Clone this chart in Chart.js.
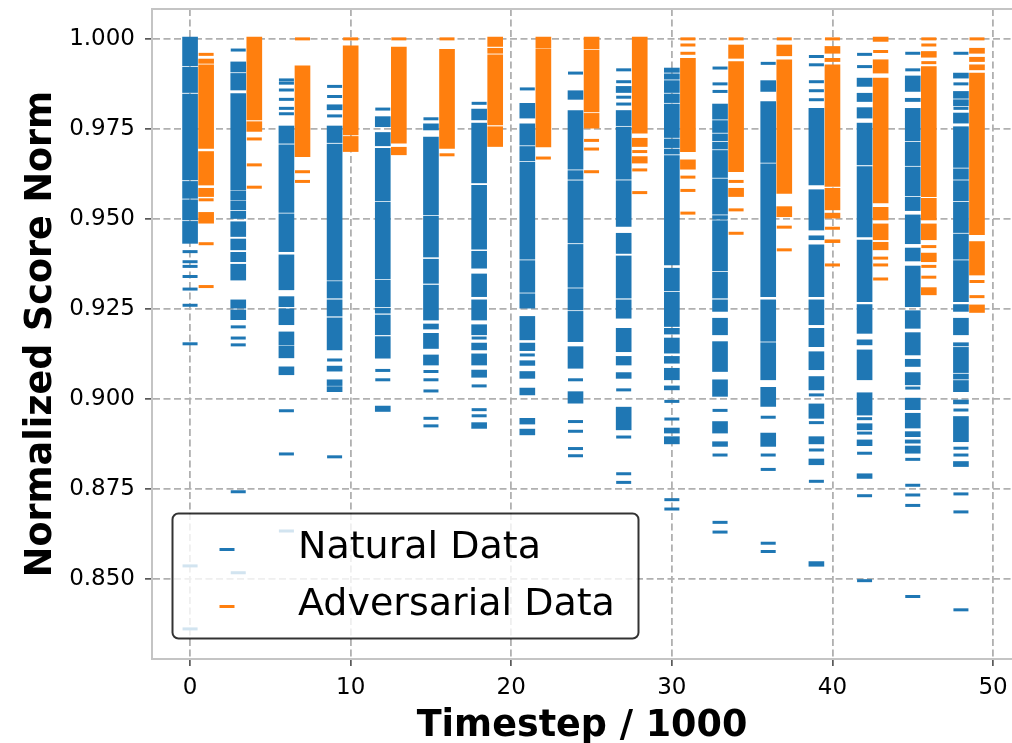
<!DOCTYPE html>
<html>
<head>
<meta charset="utf-8">
<script src="https://cdn.jsdelivr.net/npm/chart.js"></script>
<style>
  html, body { margin: 0; padding: 0; background: #fff; }
  #wrap { width: 1012px; height: 743px; }
</style>
</head>
<body>
<div id="wrap"><canvas id="chart" width="1012" height="743"></canvas></div>
<script>
// timesteps (in thousands) for each column of dashes
const natX = [0, 3, 6, 9, 12, 15, 18, 21, 24, 27, 30, 33, 36, 39, 42, 45, 48];
const advX = [1, 4, 7, 10, 13, 16, 19, 22, 25, 28, 31, 34, 37, 40, 43, 46, 49];

// dense runs of overlapping dashes as [low, high]
const natBlocks = [
  [[0.9925,1.0005],[0.9851,0.9921],[0.9608,0.9847],[0.9557,0.9604],[0.9497,0.9553],[0.9432,0.9493]],
  [[0.9908,0.9936],[0.9858,0.9904],[0.9581,0.9848],[0.9553,0.9578],[0.9525,0.9550],[0.9501,0.9521],[0.9451,0.9492],[0.9414,0.9444],[0.9381,0.9407],[0.9330,0.9374],[0.9252,0.9275],[0.9220,0.9247]],
  [[0.9710,0.9758],[0.9518,0.9706],[0.9409,0.9514],[0.9303,0.9400],[0.9256,0.9284],[0.9206,0.9250],[0.9150,0.9186],[0.9114,0.9147],[0.9067,0.9089]],
  [[0.9803,0.9817],[0.9712,0.9758],[0.9330,0.9708],[0.9280,0.9326],[0.9230,0.9275],[0.9136,0.9225],[0.9077,0.9091],[0.9037,0.9053],[0.9020,0.9034]],
  [[0.9756,0.9784],[0.9703,0.9740],[0.9550,0.9696],[0.9334,0.9546],[0.9256,0.9330],[0.9238,0.9252],[0.9178,0.9233],[0.9113,0.9173],[0.8965,0.8980]],
  [[0.9747,0.9764],[0.9511,0.9727],[0.9394,0.9507],[0.9321,0.9388],[0.9219,0.9316],[0.9194,0.9208],[0.9140,0.9182],[0.9094,0.9122]],
  [[0.9775,0.9805],[0.9600,0.9766],[0.9416,0.9593],[0.9363,0.9410],[0.9284,0.9347],[0.9219,0.9275],[0.9178,0.9206],[0.9136,0.9155],[0.9094,0.9125],[0.9060,0.9080],[0.8918,0.8934]],
  [[0.9780,0.9821],[0.9705,0.9764],[0.9661,0.9701],[0.9388,0.9657],[0.9296,0.9384],[0.9252,0.9292],[0.9164,0.9229],[0.9134,0.9155],[0.9093,0.9106],[0.9057,0.9076],[0.9011,0.9030],[0.8930,0.8946],[0.8900,0.8916]],
  [[0.9832,0.9856],[0.9638,0.9801],[0.9610,0.9634],[0.9433,0.9606],[0.9310,0.9429],[0.9247,0.9306],[0.9159,0.9243],[0.9085,0.9145],[0.8988,0.9020]],
  [[0.9851,0.9868],[0.9759,0.9801],[0.9610,0.9755],[0.9479,0.9606],[0.9404,0.9460],[0.9280,0.9397],[0.9224,0.9275],[0.9131,0.9196],[0.9094,0.9118],[0.9057,0.9073],[0.8914,0.8977]],
  [[0.9907,0.9919],[0.9888,0.9903],[0.9851,0.9884],[0.9823,0.9847],[0.9726,0.9819],[0.9698,0.9722],[0.9680,0.9694],[0.9372,0.9676],[0.9300,0.9363],[0.9201,0.9296],[0.9180,0.9196],[0.9127,0.9169],[0.9099,0.9118],[0.9053,0.9085],[0.9025,0.9036],[0.8905,0.8919],[0.8875,0.8895]],
  [[0.9777,0.9819],[0.9740,0.9773],[0.9717,0.9736],[0.9694,0.9713],[0.9615,0.9690],[0.9513,0.9611],[0.9499,0.9509],[0.9356,0.9495],[0.9280,0.9352],[0.9243,0.9275],[0.9178,0.9224],[0.9076,0.9159],[0.9007,0.9053],[0.8905,0.8937],[0.8868,0.8881]],
  [[0.9854,0.9884],[0.9657,0.9826],[0.9284,0.9653],[0.9160,0.9275],[0.9053,0.9156],[0.8979,0.9032],[0.8868,0.8905]],
  [[0.9594,0.9807],[0.9469,0.9581],[0.9442,0.9453],[0.9284,0.9428],[0.9206,0.9275],[0.9145,0.9196],[0.9081,0.9131],[0.9025,0.9062],[0.8946,0.8986],[0.8875,0.8895],[0.8817,0.8833],[0.8535,0.8548]],
  [[0.9868,0.9891],[0.9826,0.9849],[0.9780,0.9809],[0.9650,0.9766],[0.9450,0.9645],[0.9270,0.9441],[0.9182,0.9262],[0.9150,0.9164],[0.9053,0.9136],[0.8955,0.9017],[0.8914,0.8931],[0.8870,0.8886],[0.8779,0.8792]],
  [[0.9854,0.9897],[0.9826,0.9835],[0.9717,0.9807],[0.9648,0.9713],[0.9564,0.9644],[0.9523,0.9560],[0.9431,0.9511],[0.9383,0.9419],[0.9256,0.9369],[0.9196,0.9245],[0.9122,0.9184],[0.9090,0.9110],[0.9039,0.9073],[0.8970,0.9002],[0.8919,0.8960],[0.8895,0.8909],[0.8877,0.8886],[0.8849,0.8869]],
  [[0.9891,0.9905],[0.9835,0.9854],[0.9814,0.9831],[0.9766,0.9794],[0.9643,0.9756],[0.9610,0.9639],[0.9550,0.9606],[0.9462,0.9546],[0.9388,0.9458],[0.9270,0.9384],[0.9243,0.9262],[0.9178,0.9224],[0.9147,0.9156],[0.9073,0.9143],[0.9055,0.9069],[0.9020,0.9051],[0.8986,0.8997],[0.8881,0.8951],[0.8812,0.8826]]
];

// single dashes standing apart
const natDashes = [
  [0.9409, 0.9381, 0.9368, 0.9340, 0.9305, 0.9260, 0.9153, 0.8536, 0.8361],
  [0.9969, 0.9200, 0.9169, 0.9150, 0.8742, 0.8517],
  [0.9886, 0.9877, 0.9858, 0.9832, 0.9807, 0.9792, 0.8967, 0.8847, 0.8633],
  [0.9868, 0.9840, 0.9786, 0.9108, 0.8839],
  [0.9805, 0.9079, 0.9053],
  [0.9778, 0.9076, 0.9053, 0.9022, 0.8946, 0.8925],
  [0.9821, 0.9169, 0.9036, 0.8970, 0.8953],
  [0.9861, 0.9122],
  [0.9905, 0.9053, 0.8937, 0.8910, 0.8862, 0.8842],
  [0.9914, 0.9881, 0.9838, 0.9819, 0.9025, 0.8894, 0.8792, 0.8768],
  [0.8993, 0.8944, 0.8720, 0.8694],
  [0.9919, 0.9875, 0.9854, 0.8968, 0.8844, 0.8657, 0.8630],
  [0.9932, 0.8949, 0.8844, 0.8804, 0.8599, 0.8576],
  [0.9951, 0.9928, 0.9881, 0.9856, 0.9831, 0.9011, 0.8934, 0.8858, 0.8771],
  [0.9957, 0.9923, 0.8945, 0.8905, 0.8849, 0.8731, 0.8495],
  [0.9960, 0.9914, 0.9030, 0.8832, 0.8760, 0.8733, 0.8704, 0.8451],
  [0.9960, 0.9875, 0.9807, 0.8969, 0.8863, 0.8844, 0.8736, 0.8686, 0.8414]
];

const advBlocks = [
  [[0.9932,0.9944],[0.9696,0.9928],[0.9594,0.9687],[0.9562,0.9585],[0.9488,0.9518]],
  [[0.9775,1.0005],[0.9743,0.9770]],
  [[0.9673,0.9925]],
  [[0.9733,0.9981],[0.9687,0.9729]],
  [[0.9710,0.9977],[0.9678,0.9699]],
  [[0.9696,0.9971]],
  [[0.9979,1.0005],[0.9960,0.9974],[0.9761,0.9956],[0.9701,0.9756]],
  [[0.9974,1.0005],[0.9700,0.9971]],
  [[0.9972,1.0005],[0.9797,0.9968],[0.9752,0.9793]],
  [[0.9738,1.0005],[0.9701,0.9724],[0.9655,0.9673]],
  [[0.9687,0.9946],[0.9638,0.9664]],
  [[0.9946,0.9983],[0.9631,0.9937],[0.9562,0.9585]],
  [[0.9953,0.9983],[0.9571,0.9942],[0.9506,0.9534]],
  [[0.9960,0.9979],[0.9937,0.9946],[0.9590,0.9928],[0.9525,0.9585],[0.9502,0.9516],[0.9434,0.9442]],
  [[0.9993,1.0005],[0.9905,0.9942],[0.9544,0.9891],[0.9497,0.9532],[0.9442,0.9486],[0.9414,0.9435]],
  [[0.9949,0.9965],[0.9562,0.9923],[0.9497,0.9557],[0.9442,0.9486],[0.9381,0.9405],[0.9289,0.9309]],
  [[0.9960,0.9974],[0.9937,0.9949],[0.9914,0.9928],[0.9456,0.9905],[0.9344,0.9437],[0.9240,0.9261]]
];

const advDashes = [
  [0.9957, 0.9553, 0.9431, 0.9312],
  [0.9722, 0.9650, 0.9588],
  [1.0000, 0.9631, 0.9604],
  [1.0000],
  [1.0000],
  [1.0000, 0.9678],
  [],
  [0.9669],
  [0.9718, 0.9694, 0.9631],
  [0.9687, 0.9636, 0.9573],
  [1.0000, 0.9983, 0.9960, 0.9616, 0.9579, 0.9516],
  [1.0000, 0.9604, 0.9525, 0.9460],
  [1.0000, 0.9477, 0.9414],
  [1.0000, 0.9474, 0.9372],
  [0.9965, 0.9391, 0.9372, 0.9333],
  [1.0000, 0.9983, 0.9934, 0.9423, 0.9368, 0.9338],
  [1.0000, 0.9326, 0.9284]
];

const xTicks = [0, 10, 20, 30, 40, 50];
const yTicks = [0.850, 0.875, 0.900, 0.925, 0.950, 0.975, 1.000];

const BLUE = '#1f77b4';
const ORANGE = '#ff7f0e';
const FONT = "'DejaVu Sans', 'Liberation Sans', sans-serif";

function toPoints(xs, cols) {
  return xs.flatMap((x, i) => cols[i].map(v => ({ x: x, y: v })));
}
function toRanges(xs, cols) {
  return xs.flatMap((x, i) => cols[i].map(r => ({ x: x, y: [r[0], r[1]] })));
}

// matplotlib style boxed legend + top spine
const boxLegend = {
  id: 'boxLegend',
  afterDraw(chart) {
    const ctx = chart.ctx;
    const area = chart.chartArea;
    ctx.save();
    ctx.strokeStyle = '#c4c4c4';
    ctx.lineWidth = 2;
    ctx.beginPath();
    ctx.moveTo(area.left, area.top);
    ctx.lineTo(area.right, area.top);
    ctx.stroke();

    const bx = area.left + 20.5, bw = 466, bh = 125;
    const by = area.bottom - 20.5 - bh;
    ctx.beginPath();
    ctx.roundRect(bx, by, bw, bh, 6);
    ctx.fillStyle = 'rgba(255,255,255,0.8)';
    ctx.fill();
    ctx.lineWidth = 2;
    ctx.strokeStyle = 'rgba(0,0,0,0.8)';
    ctx.stroke();

    const items = chart.data.datasets.slice(0, 2);
    items.forEach((ds, i) => {
      const my = by + 36 + i * 57;
      ctx.strokeStyle = ds.borderColor;
      ctx.lineWidth = 3;
      ctx.beginPath();
      ctx.moveTo(bx + 47, my);
      ctx.lineTo(bx + 62, my);
      ctx.stroke();
      ctx.fillStyle = '#000';
      ctx.font = '38px ' + FONT;
      ctx.textBaseline = 'alphabetic';
      ctx.textAlign = 'left';
      ctx.fillText(ds.label, bx + 125.5, by + 44.5 + i * 57);
    });
    ctx.restore();
  }
};

const gridStyle = {
  color: '#b0b0b0',
  lineWidth: 1.8,
  tickColor: '#222',
  tickLength: 7,
  tickWidth: 1.3
};
const borderStyle = { display: true, color: '#c4c4c4', width: 2, dash: [7, 3.5] };

new Chart(document.getElementById('chart'), {
  type: 'scatter',
  data: {
    datasets: [
      {
        label: 'Natural Data',
        data: toPoints(natX, natDashes),
        pointStyle: 'line',
        radius: 7.5,
        hoverRadius: 7.5,
        borderWidth: 3,
        borderColor: BLUE,
        backgroundColor: BLUE
      },
      {
        label: 'Adversarial Data',
        data: toPoints(advX, advDashes),
        pointStyle: 'line',
        radius: 7.5,
        hoverRadius: 7.5,
        borderWidth: 3,
        borderColor: ORANGE,
        backgroundColor: ORANGE
      },
      {
        type: 'bar',
        label: 'natural runs',
        data: toRanges(natX, natBlocks),
        backgroundColor: BLUE,
        borderWidth: 0,
        grouped: false,
        barThickness: 15,
        maxBarThickness: 15
      },
      {
        type: 'bar',
        label: 'adversarial runs',
        data: toRanges(advX, advBlocks),
        backgroundColor: ORANGE,
        borderWidth: 0,
        grouped: false,
        barThickness: 15,
        maxBarThickness: 15
      }
    ]
  },
  options: {
    responsive: false,
    animation: false,
    devicePixelRatio: 1,
    layout: { autoPadding: false, padding: { top: 9, left: 0, right: 0, bottom: 0 } },
    plugins: {
      legend: { display: false },
      tooltip: { enabled: false }
    },
    scales: {
      x: {
        type: 'linear',
        min: -2.37,
        max: 51.18,
        offset: false,
        z: 1,
        grid: Object.assign({ offset: false }, gridStyle),
        border: borderStyle,
        afterBuildTicks: s => { s.ticks = xTicks.map(v => ({ value: v })); },
        afterFit: s => {
          s.height = 84;
          s.paddingLeft = 0;
          s.paddingRight = 0;
        },
        ticks: {
          padding: 8,
          color: '#000',
          font: { family: FONT, size: 23 },
          maxRotation: 0
        },
        title: {
          display: true,
          text: 'Timestep / 1000',
          color: '#000',
          font: { family: FONT, size: 36.5, weight: 'bold', lineHeight: 1 },
          padding: { top: 0, bottom: -2 }
        }
      },
      y: {
        type: 'linear',
        min: 0.82774,
        max: 1.0083,
        z: 1,
        grid: gridStyle,
        border: borderStyle,
        afterBuildTicks: s => { s.ticks = yTicks.map(v => ({ value: v })); },
        afterFit: s => {
          s.width = 152;
          s.paddingTop = 0;
          s.paddingBottom = 0;
        },
        ticks: {
          padding: 10,
          color: '#000',
          font: { family: FONT, size: 23 },
          callback: v => v.toFixed(3)
        },
        title: {
          display: true,
          text: 'Normalized Score Norm',
          color: '#000',
          font: { family: FONT, size: 36.5, weight: 'bold', lineHeight: 1 },
          padding: { top: 23, bottom: 0 }
        }
      }
    }
  },
  plugins: [boxLegend]
});
</script>
</body>
</html>
